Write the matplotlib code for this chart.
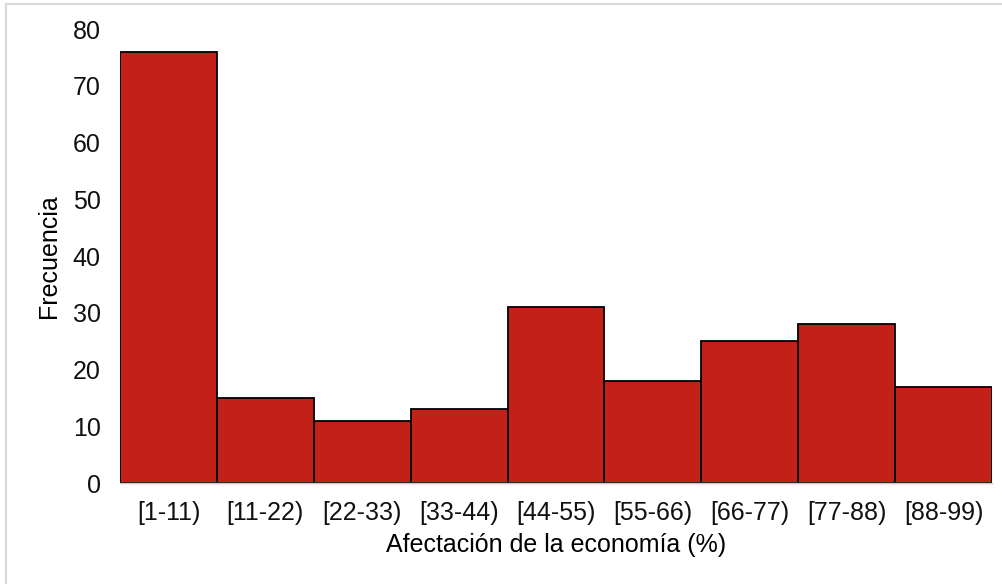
import matplotlib
matplotlib.use('Agg')
matplotlib.rcParams['font.family'] = ['Liberation Sans', 'DejaVu Sans']
import matplotlib.pyplot as plt
from matplotlib.lines import Line2D

categories = ['[1-11)', '[11-22)', '[22-33)', '[33-44)', '[44-55)',
              '[55-66)', '[66-77)', '[77-88)', '[88-99)']
frecuencia = [76, 15, 11, 13, 31, 18, 25, 28, 17]
y_ticks = [0, 10, 20, 30, 40, 50, 60, 70, 80]

fig = plt.figure(figsize=(10.02, 5.84), dpi=100)
ax = fig.add_axes([0.1198, 0.1729, 0.8702, 0.7774])

x = list(range(len(categories)))
ax.bar(x, frecuencia, width=1.0, color='#C32117', edgecolor='black', linewidth=1.3)

ax.set_xlim(-0.5, len(categories) - 0.5)
ax.set_ylim(0, 80)
ax.set_yticks(y_ticks)
ax.set_xticks(x)
ax.set_xticklabels(categories)
ax.tick_params(axis='both', length=0, labelsize=18, colors='#111111')
ax.tick_params(axis='y', pad=14)
ax.tick_params(axis='x', pad=13)

for side in ['top', 'right', 'left']:
    ax.spines[side].set_visible(False)
ax.spines['bottom'].set_color('#c8c8c8')
ax.spines['bottom'].set_linewidth(1.0)

ax.set_xlabel('Afectación de la economía (%)', fontsize=18, labelpad=6)
ax.set_ylabel('Frecuencia', fontsize=18, labelpad=8)

# marco gris del gráfico
fig.add_artist(Line2D([0.006, 0.006], [0.0, 0.993], transform=fig.transFigure,
                      color='#d9d9d9', linewidth=1.5))
fig.add_artist(Line2D([0.006, 1.0], [0.993, 0.993], transform=fig.transFigure,
                      color='#d9d9d9', linewidth=1.5))

fig.savefig('out.png', dpi=100)
plt.close(fig)
